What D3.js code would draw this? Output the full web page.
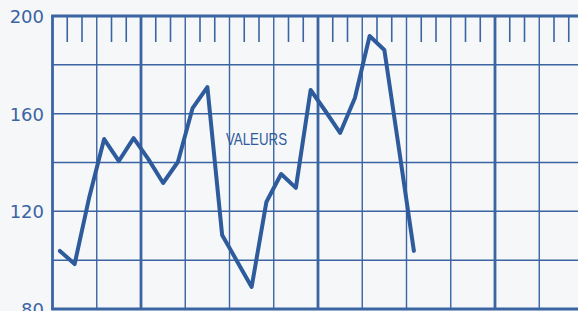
<!DOCTYPE html>
<html><head><meta charset="utf-8">
<script src="https://cdn.jsdelivr.net/npm/d3@7"></script>
<style>
html,body{margin:0;padding:0;background:#f6f7f9;}
svg{display:block;}
</style></head>
<body>
<svg id="c" width="578" height="311"></svg>
<script>
// Monthly values (index = month from start of chart)
const months = d3.range(25);
const valeurs = [103.8, 98.4, 126, 149.6, 140.6, 150.0, 141.4, 131.6, 140.2, 162.3, 170.9, 110.3, 99.7, 89.0, 123.8, 135.3, 129.6, 169.7, 161.1, 152.1, 166.4, 191.8, 186.1, 145.1, 103.8];
const yLabels = [200, 160, 120, 80];
const yGrid = [100, 120, 140, 160, 180];
const seriesLabel = "VALEURS";

const ink = "#3b64a3";
const lineInk = "#2e5b9c";

const svg = d3.select("#c");
const x = d3.scaleLinear().domain([0, 36]).range([52.5, 52.5 + 36 * 14.75]);
const y = d3.scaleLinear().domain([80, 200]).range([309, 16]);

const g = svg.append("g");

// month boundaries
const bounds = d3.range(0, 37);
// top short ticks (months not on grid lines)
g.selectAll(".mt").data(bounds.filter(k => k % 3 !== 0)).enter().append("line")
  .attr("x1", k => x(k)).attr("x2", k => x(k))
  .attr("y1", y(200)).attr("y2", y(200) + 26)
  .attr("stroke", ink).attr("stroke-width", 1.6);

// vertical grid (quarters), thick at years
g.selectAll(".vg").data(bounds.filter(k => k % 3 === 0)).enter().append("line")
  .attr("x1", k => x(k)).attr("x2", k => x(k))
  .attr("y1", y(200)).attr("y2", y(80))
  .attr("stroke", ink)
  .attr("stroke-width", k => (k === 0 || (k - 6) % 12 === 0) ? 2.8 : 1.4);

// horizontal grid
g.selectAll(".hg").data(yGrid).enter().append("line")
  .attr("x1", x(0)).attr("x2", 578)
  .attr("y1", d => y(d)).attr("y2", d => y(d))
  .attr("stroke", ink).attr("stroke-width", 1.5);

// top & bottom borders
g.selectAll(".bd").data([200, 80]).enter().append("line")
  .attr("x1", x(0) - 1.4).attr("x2", 578)
  .attr("y1", d => y(d)).attr("y2", d => y(d))
  .attr("stroke", ink).attr("stroke-width", 3);

// y axis labels
const yAxis = d3.axisLeft(y).tickValues(yLabels).tickSize(0).tickPadding(0).tickFormat(d3.format("d"));
const ya = svg.append("g").attr("transform", "translate(44,0)").call(yAxis);
ya.select(".domain").remove();
ya.selectAll("text")
  .attr("fill", ink)
  .attr("font-family", "DejaVu Sans, sans-serif")
  .attr("font-size", 18)
  .attr("dy", "0.36em");

// data line
const line = d3.line().x((d, i) => x(months[i] + 0.5)).y(d => y(d));
svg.append("path").datum(valeurs)
  .attr("d", line)
  .attr("fill", "none")
  .attr("stroke", lineInk)
  .attr("stroke-width", 4)
  .attr("stroke-linejoin", "round")
  .attr("stroke-linecap", "round");

// label
svg.append("text")
  .attr("x", 226).attr("y", 145)
  .attr("textLength", 61).attr("lengthAdjust", "spacingAndGlyphs")
  .attr("font-family", "Liberation Sans, Arial, sans-serif")
  .attr("font-size", 16.5)
  .attr("fill", lineInk)
  .text(seriesLabel);
</script>
</body></html>
